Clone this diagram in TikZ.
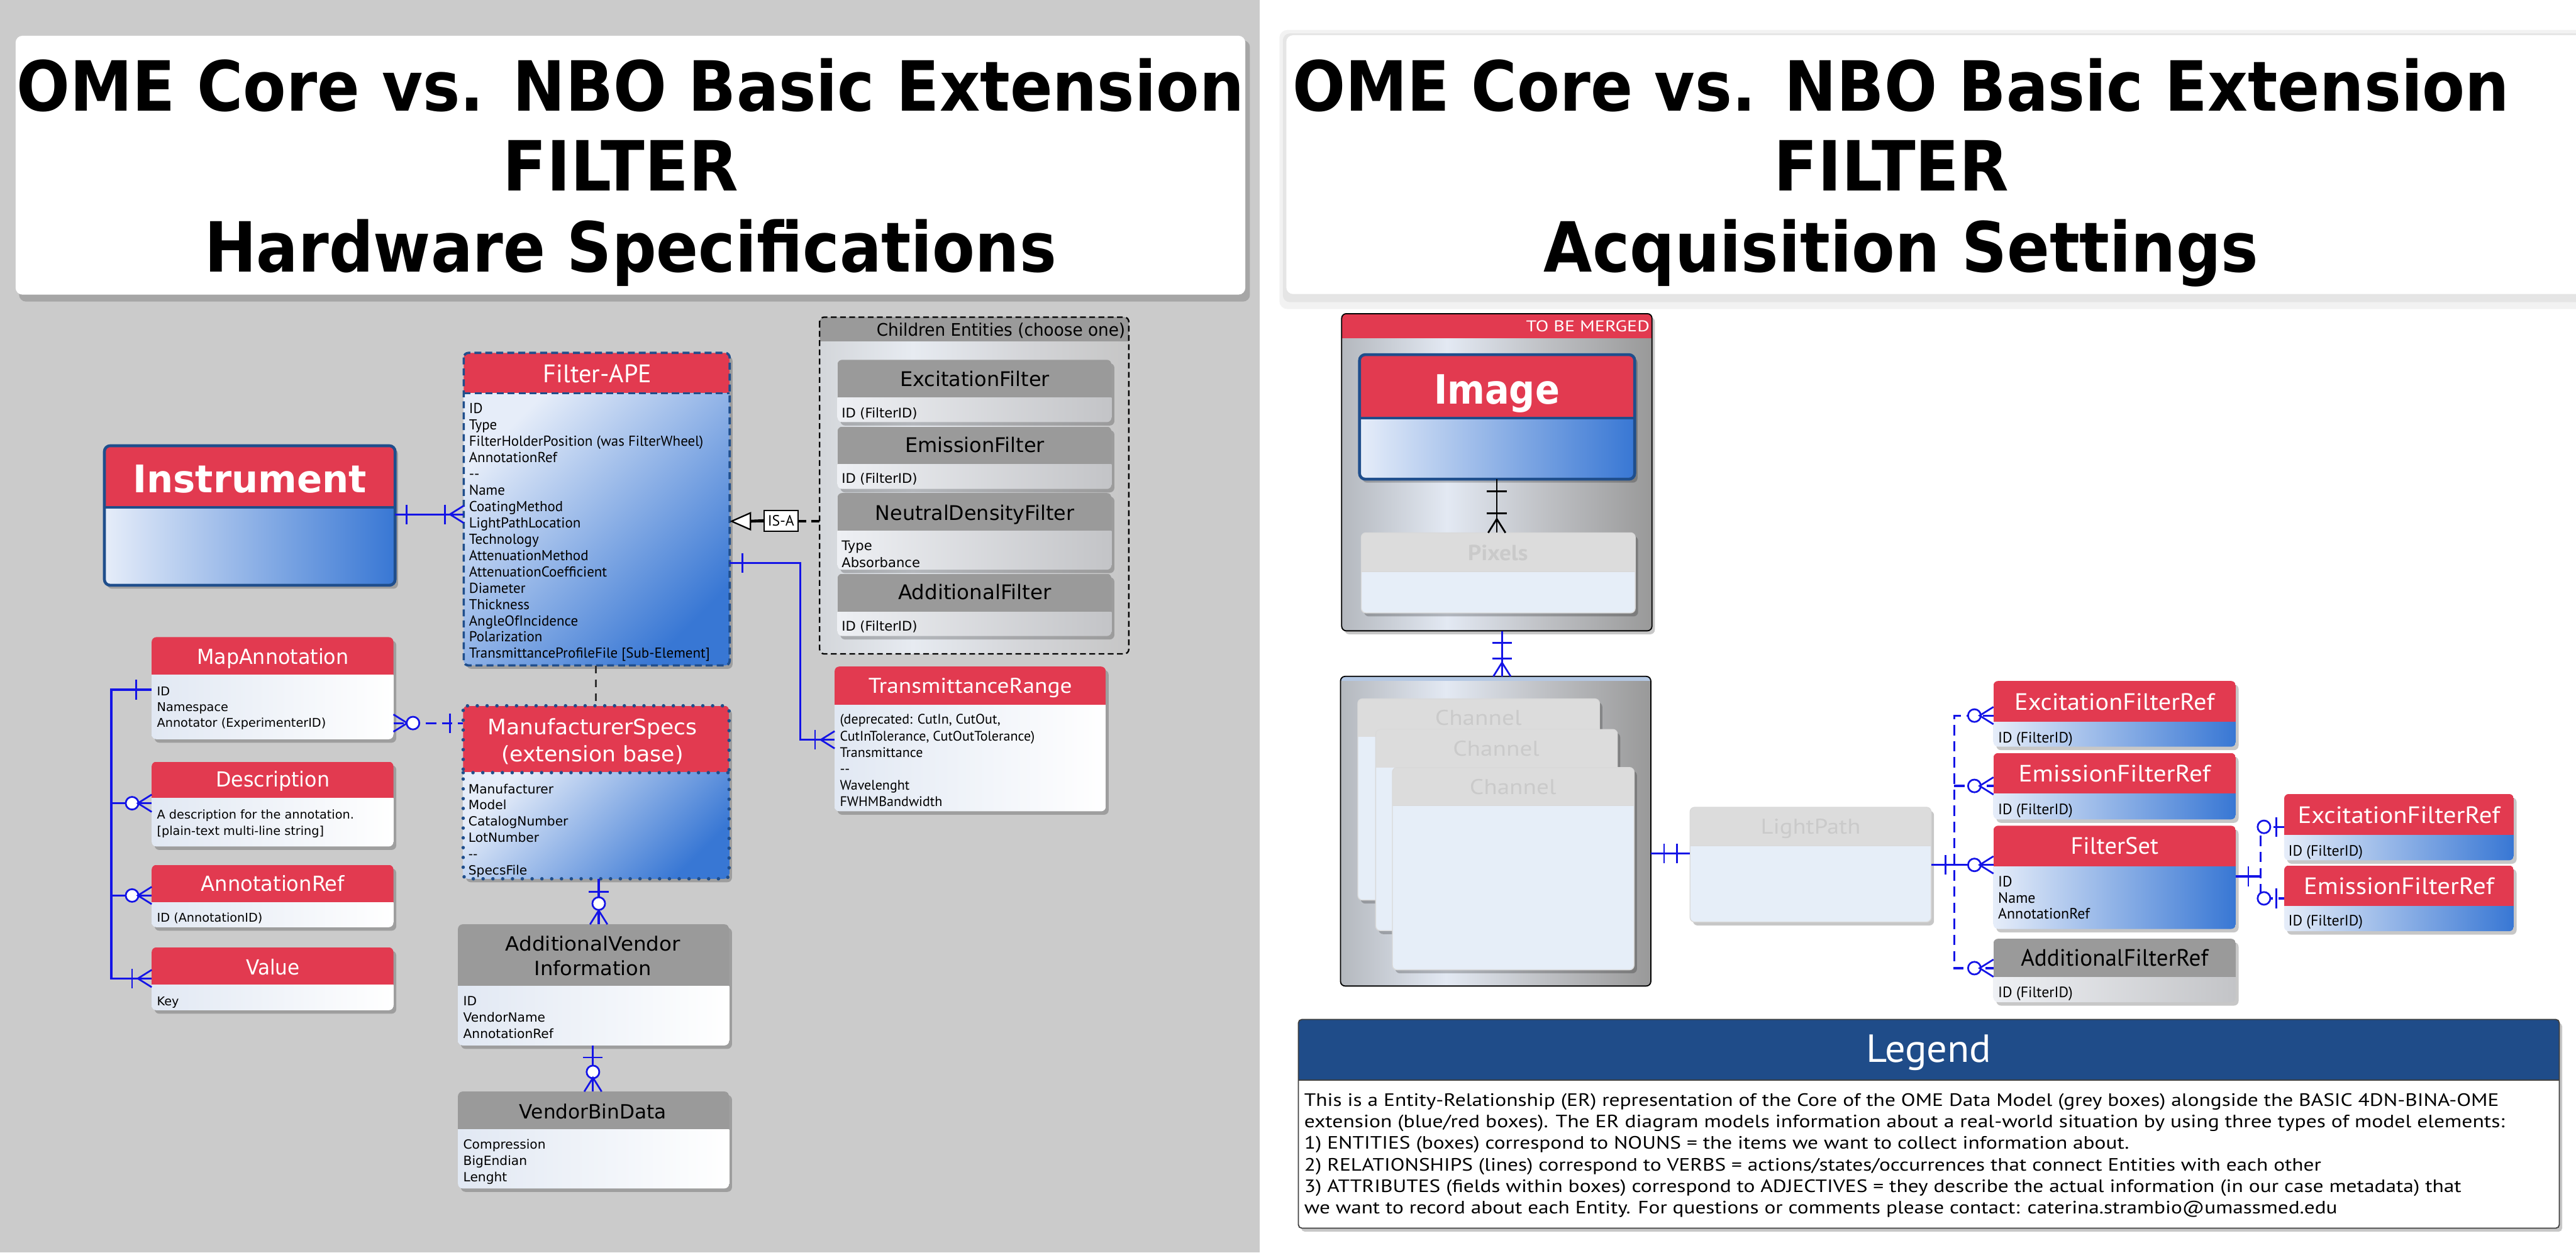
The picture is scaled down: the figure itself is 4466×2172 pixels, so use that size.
\documentclass[tikz,border=0pt]{standalone}
\usepackage{fontspec}
\usepackage{graphicx}
\usetikzlibrary{arrows.meta,fit}
\newfontfamily\dvs{DejaVu Sans}
\newfontfamily\pts{PT Sans}
\newcommand\fsz[1]{\fontsize{#1bp}{#1bp}\selectfont}
\newcommand\hfit[2]{\resizebox{#1bp}{\height}{#2}}
\definecolor{bgL}{HTML}{CBCBCB}
\definecolor{hred}{HTML}{E23A50}
\definecolor{dblue}{HTML}{1F4E8C}
\definecolor{cblue}{HTML}{1414E6}
\definecolor{bluL}{HTML}{E6EDF9}
\definecolor{bluR}{HTML}{3877D4}
\definecolor{hgray}{HTML}{9A9A9A}
\definecolor{wL}{HTML}{E1E8F3}
\definecolor{gL}{HTML}{EEF0F4}
\definecolor{gR}{HTML}{C3C4C7}
\definecolor{slA}{HTML}{B4B8BE}
\definecolor{slB}{HTML}{E3E9F3}
\definecolor{slC}{HTML}{BEC0C4}
\definecolor{slD}{HTML}{999999}
\definecolor{scA}{HTML}{D3D6DA}
\definecolor{scB}{HTML}{E7EBF1}
\definecolor{scC}{HTML}{D2D3D6}
\definecolor{scD}{HTML}{C6C6C6}
\definecolor{fadeH}{HTML}{DCDCDC}
\definecolor{fadeB}{HTML}{E6EEF8}
\definecolor{fadeT}{HTML}{CACACA}
\definecolor{legH}{HTML}{1F4C89}
\definecolor{topband}{HTML}{B4C8E4}
\pgfdeclarehorizontalshading{silver}{100bp}{color(0bp)=(slA); color(25bp)=(slA); color(42bp)=(slB); color(58bp)=(slC); color(75bp)=(slD); color(100bp)=(slD)}
\pgfdeclarehorizontalshading{silverc}{100bp}{color(0bp)=(scA); color(25bp)=(scA); color(40bp)=(scB); color(60bp)=(scC); color(75bp)=(scD); color(100bp)=(scD)}
\tikzset{
  shadowc/.style={fill=black, opacity=0.22},
  hdr/.style={fill=hred},
  hdrg/.style={fill=hgray},
  bodyblue/.style={left color=bluL, right color=bluR},
  bodydiag/.style={top color=bluL, bottom color=bluR, shading angle=45},
  bodywhite/.style={left color=wL, right color=white},
  bodygray/.style={left color=gL, right color=gR},
  bodyfade/.style={fill=fadeB},
  hdrfade/.style={fill=fadeH},
  conn/.style={draw=cblue, line width=3.5bp},
  conndash/.style={conn, dash pattern=on 18bp off 10bp},
  mk/.style={color=cblue, line width=3bp},
  mkk/.style={color=black, line width=3bp},
  ttlw/.style={text=white, inner sep=0pt, anchor=base},
  ttlb/.style={text=black, inner sep=0pt, anchor=base},
  ttlf/.style={text=fadeT, inner sep=0pt, anchor=base},
  txt/.style={inner sep=0pt, anchor=base west},
  isa/.style={black, line width=5bp, dash pattern=on 14bp off 9bp,
    -{Triangle[length=37bp, width=32bp, fill=white, line width=2.5bp]}},
  pics/crow/.style={code={\draw[pic actions] (0,-15) -- (-24,0) -- (0,15);}},
  pics/bar/.style={code={\draw[pic actions] (0,-17) -- (0,17);}},
  pics/ring/.style={code={\draw[pic actions, fill=white] (0,0) circle[radius=11bp];}},
}
\newcommand\mk[4]{\pic[mk, rotate=#3] at (#1,#2) {#4};}
\newcommand\mkb[4]{\pic[mkk, rotate=#3] at (#1,#2) {#4};}
% entity: name, x1, y1, x2, yheader, y2, header style, body style
\newcommand\ent[8]{%
  \fill[shadowc, rounded corners=8bp] (#2+5,#3+6) rectangle (#4+5,#6+6);
  \begin{scope}
    \clip[rounded corners=8bp] (#2,#3) rectangle (#4,#6);
    \fill[#7] (#2,#3) rectangle (#4,#5);
    \path[#8] (#2,#5) rectangle (#4,#6);
  \end{scope}
  \node[fit={(#2,#3) (#4,#6)}, inner sep=0pt] (#1) {};
}
\newcommand\blines[6]{%
  \foreach \t [count=\i] in {#6} {\node[txt, font={#2}] (#1-\i) at (#3, {#4+(\i-1)*#5}) {\t};}
}
\begin{document}
\begin{tikzpicture}[x=1bp, y=-1bp]
\useasboundingbox (0,0) rectangle (4466,2172);
%================ LEFT PANEL =================
\fill[bgL] (0,0) rectangle (2184,2172);
\fill[black, opacity=.18, rounded corners=12bp] (33,70) rectangle (2167,523);
\node[fit={(27,62) (2159,511)}, inner sep=0pt, fill=white, rounded corners=12bp] (ttlL) {};
\node[ttlb, font=\dvs\bfseries\fsz{120}] (ttlL1) at (1093,192) {\hfit{2128}{OME Core vs. NBO Basic Extension}};
\node[ttlb, font=\dvs\bfseries\fsz{120}] (ttlL2) at (1076,331) {\hfit{408}{FILTER}};
\node[ttlb, font=\dvs\bfseries\fsz{120}] (ttlL3) at (1093,472) {\hfit{1477}{Hardware Specifications}};

% Instrument
\ent{inst}{181}{773}{685}{880}{1015}{hdr}{bodyblue}
\draw[dblue, line width=5bp, rounded corners=10bp] (181,773) rectangle (685,1015);
\draw[dblue, line width=5bp] (181,880) -- (685,880);
\node[ttlw, font=\dvs\bfseries\fsz{66}] (inst-t) at (433,854) {\hfit{405}{Instrument}};

% Filter-APE
\ent{fape}{804}{612}{1265}{682}{1154}{hdr}{bodydiag}
\draw[dblue, line width=4bp, dash pattern=on 12bp off 7bp, rounded corners=8bp] (804,612) rectangle (1265,1154);
\draw[dblue, line width=4bp, dash pattern=on 12bp off 7bp] (804,682) -- (1265,682);
\node[ttlw, font=\pts\fsz{44}] (fape-t) at (1036,663) {\hfit{188}{Filter-APE}};
\blines{fape}{\pts\fsz{25}}{813}{717}{28.3}{ID, Type, FilterHolderPosition (was FilterWheel), AnnotationRef, -{}-, Name, CoatingMethod, LightPathLocation, Technology, AttenuationMethod, AttenuationCoefficient, Diameter, Thickness, AngleOfIncidence, Polarization, TransmittanceProfileFile [Sub-Element]}

% Children container
\begin{scope}
  \clip[rounded corners=8bp] (1421,550) rectangle (1957,1134);
  \shade[shading=silverc] (1421,550) rectangle (1957,1134);
  \fill[hgray] (1421,550) rectangle (1957,592);
\end{scope}
\draw[black, line width=2.5bp, dash pattern=on 10bp off 6bp, rounded corners=8bp] (1421,550) rectangle (1957,1134);
\node[fit={(1421,550) (1957,1134)}, inner sep=0pt] (chbox) {};
\node[inner sep=0pt, anchor=base east, font=\dvs\fsz{30}] (chbox-t) at (1951,583) {\hfit{431}{Children Entities (choose one)}};

\ent{exf}{1452}{624}{1927}{690}{732}{hdrg}{bodygray}
\node[ttlb, font=\dvs\fsz{35}] (exf-t) at (1690,670) {\hfit{259}{ExcitationFilter}};
\node[txt, font=\dvs\fsz{23}] (exf-1) at (1459,724) {ID (FilterID)};
\ent{emf}{1452}{740}{1927}{805}{848}{hdrg}{bodygray}
\node[ttlb, font=\dvs\fsz{35}] (emf-t) at (1690,785) {\hfit{242}{EmissionFilter}};
\node[txt, font=\dvs\fsz{23}] (emf-1) at (1459,838) {ID (FilterID)};
\ent{ndf}{1452}{855}{1927}{921}{988}{hdrg}{bodygray}
\node[ttlb, font=\dvs\fsz{35}] (ndf-t) at (1690,902) {\hfit{345}{NeutralDensityFilter}};
\blines{ndf}{\dvs\fsz{23}}{1459}{955}{29}{Type, Absorbance}
\ent{adf}{1452}{995}{1927}{1061}{1103}{hdrg}{bodygray}
\node[ttlb, font=\dvs\fsz{35}] (adf-t) at (1690,1040) {\hfit{266}{AdditionalFilter}};
\node[txt, font=\dvs\fsz{23}] (adf-1) at (1459,1094) {ID (FilterID)};

% IS-A
\draw[isa] (chbox.west |- 0,904) -- (fape.east |- 0,904);
\node[draw=black, fill=white, line width=2bp, inner sep=1bp, minimum width=59bp, minimum height=36bp, font=\pts\fsz{26}] (isal) at (1354,903) {IS-A};
\draw[black, line width=5bp] (1300,904) -- (isal.west);

% TransmittanceRange
\ent{trng}{1447}{1156}{1917}{1223}{1407}{hdr}{bodywhite}
\node[ttlw, font=\pts\fsz{37}] (trng-t) at (1682,1202) {\hfit{353}{TransmittanceRange}};
\blines{trng}{\pts\fsz{24}}{1456}{1256}{28.4}{{(deprecated: CutIn, CutOut,}, {CutInTolerance, CutOutTolerance)}, Transmittance, -{}-, Wavelenght, FWHMBandwidth}

\draw[conn] (fape.east |- 0,976) -- (1387,976) -- (1387,1283) -- (trng.west |- 0,1283);
\mk{1287}{976}{0}{bar}
\mk{1413}{1283}{0}{bar}
\mk{1447}{1283}{0}{crow}

\draw[conn] (inst.east |- 0,892) -- (fape.west |- 0,892);
\mk{705}{892}{0}{bar}
\mk{771}{892}{0}{bar}
\mk{804}{892}{0}{crow}

% Annotation entities
\ent{mapa}{263}{1105}{682}{1171}{1282}{hdr}{bodywhite}
\node[ttlw, font=\dvs\fsz{36}] (mapa-t) at (473,1152) {\hfit{263}{MapAnnotation}};
\blines{mapa}{\dvs\fsz{21}}{272}{1206}{27.5}{ID, Namespace, Annotator (ExperimenterID)}
\ent{desc}{263}{1321}{682}{1384}{1468}{hdr}{bodywhite}
\node[ttlw, font=\dvs\fsz{36}] (desc-t) at (473,1365) {\hfit{197}{Description}};
\blines{desc}{\dvs\fsz{21}}{272}{1420}{28}{A description for the annotation., [plain-text multi-line string]}
\ent{aref}{263}{1500}{682}{1565}{1608}{hdr}{bodywhite}
\node[ttlw, font=\dvs\fsz{36}] (aref-t) at (473,1545) {\hfit{249}{AnnotationRef}};
\node[txt, font=\dvs\fsz{21}] (aref-1) at (272,1599) {ID (AnnotationID)};
\ent{valu}{263}{1643}{682}{1708}{1752}{hdr}{bodywhite}
\node[ttlw, font=\dvs\fsz{36}] (valu-t) at (473,1690) {\hfit{93}{Value}};
\node[txt, font=\dvs\fsz{21}] (valu-1) at (272,1744) {Key};

\draw[conn] (mapa.west |- 0,1196) -- (193,1196) -- (193,1697) -- (valu.west |- 0,1697);
\mk{236}{1196}{0}{bar}
\mk{229}{1697}{0}{bar}
\mk{263}{1697}{0}{crow}
\draw[conn] (193,1393) -- (desc.west |- 0,1393);
\mk{229}{1393}{0}{ring}
\mk{263}{1393}{0}{crow}
\draw[conn] (193,1553) -- (aref.west |- 0,1553);
\mk{229}{1553}{0}{ring}
\mk{263}{1553}{0}{crow}

% ManufacturerSpecs
\ent{mspec}{803}{1224}{1264}{1340}{1524}{hdr}{bodydiag}
\draw[dblue, line width=6bp, dash pattern=on 0bp off 17bp, line cap=round, rounded corners=8bp] (803,1224) rectangle (1264,1524);
\draw[dblue, line width=6bp, dash pattern=on 0bp off 17bp, line cap=round] (803,1340) -- (1264,1340);
\node[ttlw, font=\dvs\fsz{37}] (mspec-t1) at (1027,1274) {\hfit{363}{ManufacturerSpecs}};
\node[ttlw, font=\dvs\fsz{37}] (mspec-t2) at (1027,1321) {\hfit{316}{(extension base)}};
\blines{mspec}{\dvs\fsz{22}}{812}{1376}{28.2}{Manufacturer, Model, CatalogNumber, LotNumber, -{}-, SpecsFile}

\draw[conndash] (mapa.east |- 0,1254) -- (mspec.west |- 0,1254);
\mk{682}{1254}{180}{crow}
\mk{716}{1254}{0}{ring}
\mk{780}{1254}{0}{bar}

\draw[black!80, line width=4bp, dash pattern=on 14bp off 10bp] (fape.south -| 1033,0) -- (mspec.north -| 1033,0);

% AdditionalVendor
\ent{avi}{794}{1603}{1264}{1710}{1813}{hdrg}{bodywhite}
\node[ttlb, font=\dvs\fsz{34}] (avi-t1) at (1028,1649) {\hfit{303}{AdditionalVendor}};
\node[ttlb, font=\dvs\fsz{34}] (avi-t2) at (1028,1692) {\hfit{203}{Information}};
\blines{avi}{\dvs\fsz{22}}{803}{1744}{28.5}{ID, VendorName, AnnotationRef}

\draw[conn] (mspec.south -| 1038,0) -- (avi.north -| 1038,0);
\mk{1038}{1547}{90}{bar}
\mk{1038}{1567}{0}{ring}
\mk{1038}{1603}{-90}{crow}

\ent{vbd}{794}{1893}{1264}{1959}{2061}{hdrg}{bodywhite}
\node[ttlb, font=\dvs\fsz{34}] (vbd-t) at (1028,1940) {\hfit{255}{VendorBinData}};
\blines{vbd}{\dvs\fsz{22}}{803}{1993}{28}{Compression, BigEndian, Lenght}

\draw[conn] (avi.south -| 1028,0) -- (vbd.north -| 1028,0);
\mk{1028}{1834}{90}{bar}
\mk{1028}{1859}{0}{ring}
\mk{1028}{1893}{-90}{crow}

%================ RIGHT PANEL =================
\fill[white] (2184,0) rectangle (4466,2172);
\fill[black, opacity=.05, rounded corners=14bp] (2218,52) rectangle (4480,536);
\fill[black, opacity=.05, rounded corners=12bp] (2224,58) rectangle (4480,524);
\node[fit={(2230,61) (4480,510)}, inner sep=0pt, fill=white, rounded corners=12bp] (ttlR) {};
\node[ttlb, font=\dvs\bfseries\fsz{120}] (ttlR1) at (3296,192) {\hfit{2110}{OME Core vs. NBO Basic Extension}};
\node[ttlb, font=\dvs\bfseries\fsz{120}] (ttlR2) at (3279,331) {\hfit{408}{FILTER}};
\node[ttlb, font=\dvs\bfseries\fsz{120}] (ttlR3) at (3296,472) {\hfit{1239}{Acquisition Settings}};

% TO BE MERGED container
\fill[shadowc, rounded corners=8bp] (2331,550) rectangle (2869,1100);
\begin{scope}
  \clip[rounded corners=8bp] (2326,544) rectangle (2864,1094);
  \shade[shading=silver] (2326,544) rectangle (2864,1094);
  \fill[hred] (2326,544) rectangle (2864,587);
\end{scope}
\draw[black, line width=2bp, rounded corners=8bp] (2326,544) rectangle (2864,1094);
\node[fit={(2326,544) (2864,1094)}, inner sep=0pt] (tbm) {};
\node[inner sep=0pt, anchor=base east, text=white, font=\pts\fsz{27}] (tbm-t) at (2860,575) {\hfit{214}{TO BE MERGED}};

\ent{img}{2357}{615}{2834}{725}{831}{hdr}{bodyblue}
\draw[dblue, line width=5bp, rounded corners=10bp] (2357,615) rectangle (2834,831);
\draw[dblue, line width=5bp] (2357,725) -- (2834,725);
\node[ttlw, font=\dvs\bfseries\fsz{70}] (img-t) at (2595,700) {\hfit{218}{Image}};

\ent{pix}{2360}{924}{2835}{991}{1063}{hdrfade}{bodyfade}
\draw[black!15, line width=1.5bp, rounded corners=8bp] (2360,924) rectangle (2835,1063);
\draw[black!15, line width=1.5bp] (2360,991) -- (2835,991);
\node[ttlf, font=\pts\bfseries\fsz{38}] (pix-t) at (2597,972) {\hfit{104}{Pixels}};

\draw[black, line width=3bp] (img.south -| 2595,0) -- (pix.north -| 2595,0);
\mkb{2595}{852}{90}{bar}
\mkb{2595}{890}{90}{bar}
\mkb{2595}{924}{-90}{crow}

% Channel group
\begin{scope}
  \clip[rounded corners=8bp] (2324,1173) rectangle (2862,1710);
  \shade[shading=silver] (2324,1173) rectangle (2862,1710);
  \fill[topband] (2324,1173) rectangle (2862,1181);
\end{scope}
\draw[black, line width=2bp, rounded corners=8bp] (2324,1173) rectangle (2862,1710);
\node[fit={(2324,1173) (2862,1710)}, inner sep=0pt] (chg) {};

\ent{ch1}{2354}{1212}{2773}{1278}{1561}{hdrfade}{bodyfade}
\draw[black!15, line width=1.5bp, rounded corners=8bp] (2354,1212) rectangle (2773,1561);
\node[ttlf, font=\pts\fsz{37}] (ch1-t) at (2563,1258) {\hfit{150}{Channel}};
\ent{ch2}{2385}{1265}{2804}{1331}{1614}{hdrfade}{bodyfade}
\draw[black!15, line width=1.5bp, rounded corners=8bp] (2385,1265) rectangle (2804,1614);
\node[ttlf, font=\pts\fsz{37}] (ch2-t) at (2594,1311) {\hfit{150}{Channel}};
\ent{ch3}{2414}{1331}{2833}{1397}{1682}{hdrfade}{bodyfade}
\draw[black!15, line width=1.5bp, rounded corners=8bp] (2414,1331) rectangle (2833,1682);
\draw[black!15, line width=1.5bp] (2414,1397) -- (2833,1397);
\node[ttlf, font=\pts\fsz{37}] (ch3-t) at (2623,1378) {\hfit{150}{Channel}};

\draw[conn] (tbm.south -| 2604,0) -- (chg.north -| 2604,0);
\mk{2604}{1115}{90}{bar}
\mk{2604}{1142}{90}{bar}
\mk{2604}{1173}{-90}{crow}

% LightPath
\ent{lp}{2930}{1400}{3348}{1467}{1599}{hdrfade}{bodyfade}
\draw[black!15, line width=1.5bp, rounded corners=8bp] (2930,1400) rectangle (3348,1599);
\draw[black!15, line width=1.5bp] (2930,1467) -- (3348,1467);
\node[ttlf, font=\pts\fsz{37}] (lp-t) at (3139,1446) {\hfit{173}{LightPath}};

\draw[conn] (chg.east |- 0,1480) -- (lp.west |- 0,1480);
\mk{2885}{1480}{0}{bar}
\mk{2907}{1480}{0}{bar}

% Filter refs, left column
\ent{efr1}{3456}{1181}{3876}{1252}{1295}{hdr}{bodyblue}
\node[ttlw, font=\pts\fsz{41}] (efr1-t) at (3666,1231) {\hfit{347}{ExcitationFilterRef}};
\node[txt, font=\pts\fsz{26}] (efr1-1) at (3464,1288) {ID (FilterID)};
\ent{emfr1}{3456}{1306}{3876}{1377}{1421}{hdr}{bodyblue}
\node[ttlw, font=\pts\fsz{41}] (emfr1-t) at (3666,1356) {\hfit{333}{EmissionFilterRef}};
\node[txt, font=\pts\fsz{26}] (emfr1-1) at (3464,1412) {ID (FilterID)};
\ent{fset}{3456}{1432}{3876}{1503}{1611}{hdr}{bodyblue}
\node[ttlw, font=\pts\fsz{41}] (fset-t) at (3666,1481) {\hfit{152}{FilterSet}};
\blines{fset}{\pts\fsz{26}}{3464}{1538}{28}{ID, Name, AnnotationRef}
\ent{afr}{3456}{1628}{3876}{1695}{1738}{hdrg}{bodygray}
\node[ttlb, font=\pts\fsz{41}] (afr-t) at (3666,1675) {\hfit{325}{AdditionalFilterRef}};
\node[txt, font=\pts\fsz{26}] (afr-1) at (3464,1730) {ID (FilterID)};

% right column
\ent{efr2}{3960}{1377}{4358}{1449}{1492}{hdr}{bodyblue}
\node[ttlw, font=\pts\fsz{41}] (efr2-t) at (4159,1428) {\hfit{351}{ExcitationFilterRef}};
\node[txt, font=\pts\fsz{26}] (efr2-1) at (3967,1484) {ID (FilterID)};
\ent{emfr2}{3960}{1501}{4358}{1572}{1615}{hdr}{bodyblue}
\node[ttlw, font=\pts\fsz{41}] (emfr2-t) at (4159,1551) {\hfit{330}{EmissionFilterRef}};
\node[txt, font=\pts\fsz{26}] (emfr2-1) at (3967,1606) {ID (FilterID)};

% LightPath -> refs
\draw[conndash] (efr1.west |- 0,1241) -- (3388,1241) -- (3388,1679) -- (afr.west |- 0,1679);
\draw[conndash] (3388,1363) -- (emfr1.west |- 0,1363);
\draw[conn] (lp.east |- 0,1500) -- (fset.west |- 0,1500);
\mk{3373}{1500}{0}{bar}
\foreach \yy in {1241,1363,1500,1679} {\mk{3423}{\yy}{0}{ring} \mk{3456}{\yy}{0}{crow}}

% FilterSet -> right refs
\draw[conn] (fset.east |- 0,1520) -- (3919,1520);
\draw[conndash] (efr2.west |- 0,1434) -- (3919,1434) -- (3919,1558) -- (emfr2.west |- 0,1558);
\mk{3898}{1520}{0}{bar}
\foreach \yy in {1434,1558} {\mk{3925}{\yy}{0}{ring} \mk{3946}{\yy}{0}{bar}}

% Legend
\fill[shadowc, rounded corners=6bp] (2256,1774) rectangle (4442,2136);
\begin{scope}
  \clip[rounded corners=6bp] (2251,1768) rectangle (4437,2130);
  \fill[white] (2251,1768) rectangle (4437,2130);
  \fill[legH] (2251,1768) rectangle (4437,1873);
\end{scope}
\draw[black!75, line width=2bp, rounded corners=6bp] (2251,1768) rectangle (4437,2130);
\draw[black!75, line width=2bp] (2251,1873) -- (4437,1873);
\node[fit={(2251,1768) (4437,2130)}, inner sep=0pt] (leg) {};
\node[ttlw, font=\pts\fsz{68}] (leg-t) at (3344,1842) {\hfit{217}{Legend}};
\node[txt, font=\pts\fsz{31}] (leg-1) at (2261,1918) {\hfit{2071}{This is a Entity-Relationship (ER) representation of the Core of the OME Data Model (grey boxes) alongside the BASIC 4DN-BINA-OME}};
\node[txt, font=\pts\fsz{31}] (leg-2) at (2261,1955) {\hfit{2081}{extension (blue/red boxes). The ER diagram models information about a real-world situation by using three types of model elements:}};
\node[txt, font=\pts\fsz{31}] (leg-3) at (2261,1993) {\hfit{1430}{1) ENTITIES (boxes) correspond to NOUNS = the items we want to collect information about.}};
\node[txt, font=\pts\fsz{31}] (leg-4) at (2261,2031) {\hfit{1763}{2) RELATIONSHIPS (lines) correspond to VERBS = actions/states/occurrences that connect Entities with each other}};
\node[txt, font=\pts\fsz{31}] (leg-5) at (2261,2068) {\hfit{2006}{3) ATTRIBUTES (fields within boxes) correspond to ADJECTIVES = they describe the actual information (in our case metadata) that}};
\node[txt, font=\pts\fsz{31}] (leg-6) at (2261,2105) {\hfit{1791}{we want to record about each Entity. For questions or comments please contact: caterina.strambio@umassmed.edu}};
\end{tikzpicture}
\end{document}
